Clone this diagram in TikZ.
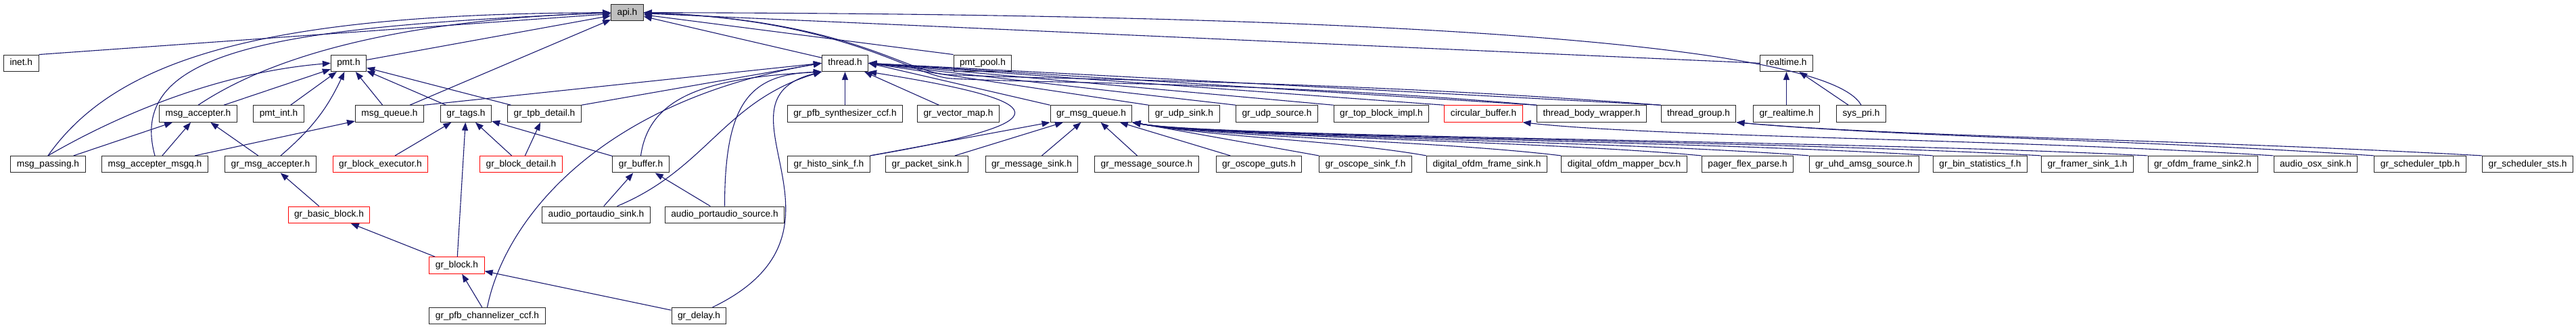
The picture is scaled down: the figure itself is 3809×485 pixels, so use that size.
\documentclass[tikz,border=0pt]{standalone}
\usepackage{fontspec}
\setmainfont{Liberation Sans}
\usetikzlibrary{arrows.meta}
\definecolor{edgeblue}{HTML}{191970}
\tikzset{
  hdr/.style={draw=black!85, line width=1pt, fill=white, inner xsep=9pt, inner ysep=0pt,
    minimum height=24.5pt, text height=10pt, text depth=3pt,
    font=\fontsize{13.7}{16}\selectfont},
  redhdr/.style={hdr, draw=red},
  edge/.style={draw=edgeblue, line width=1.1pt, -{Triangle[length=12pt,width=9pt]}}
}

\begin{document}
\begin{tikzpicture}[x=1pt,y=-1pt]
        \useasboundingbox (0,0) rectangle (3809,485);

        % row 0
        \node[hdr, fill=black!25] (api) at (927.5,18.7) {api.h};

        % row 1
        \node[hdr] (inet) at (31.3,93.3) {inet.h};
        \node[hdr] (pmt) at (515.5,93.3) {pmt.h};
        \node[hdr] (thread) at (1249.5,93.3) {thread.h};
        \node[hdr] (pmtpool) at (1453,93.3) {pmt\_pool.h};
        \node[hdr] (realtime) at (2641.5,93.3) {realtime.h};

        % row 2
        \node[hdr] (macc) at (293,168) {msg\_accepter.h};
        \node[hdr] (pmtint) at (412,168) {pmt\_int.h};
        \node[hdr] (msgq) at (576,168) {msg\_queue.h};
        \node[hdr] (tags) at (689,168) {gr\_tags.h};
        \node[hdr] (tpbd) at (805,168) {gr\_tpb\_detail.h};
        \node[hdr] (pfbs) at (1249.5,168) {gr\_pfb\_synthesizer\_ccf.h};
        \node[hdr] (vmap) at (1417,168) {gr\_vector\_map.h};
        \node[hdr] (gmq) at (1613.5,168) {gr\_msg\_queue.h};
        \node[hdr] (udps) at (1751,168) {gr\_udp\_sink.h};
        \node[hdr] (udpsrc) at (1888,168) {gr\_udp\_source.h};
        \node[hdr] (tbi) at (2042.5,168) {gr\_top\_block\_impl.h};
        \node[redhdr] (cbuf) at (2193.5,168) {circular\_buffer.h};
        \node[hdr] (tbw) at (2353.5,168) {thread\_body\_wrapper.h};
        \node[hdr] (tgroup) at (2511.5,168) {thread\_group.h};
        \node[hdr] (grrt) at (2641.5,168) {gr\_realtime.h};
        \node[hdr] (syspri) at (2752,168) {sys\_pri.h};

        % row 3
        \node[hdr] (mpass) at (71,242.7) {msg\_passing.h};
        \node[hdr] (maccq) at (229,242.7) {msg\_accepter\_msgq.h};
        \node[hdr] (gmacc) at (400,242.7) {gr\_msg\_accepter.h};
        \node[redhdr] (bexec) at (562.5,242.7) {gr\_block\_executor.h};
        \node[redhdr] (bdet) at (770.5,242.7) {gr\_block\_detail.h};
        \node[hdr] (gbuf) at (947.5,242.7) {gr\_buffer.h};
        \node[hdr] (histo) at (1225.5,242.7) {gr\_histo\_sink\_f.h};
        \node[hdr] (psink) at (1370.5,242.7) {gr\_packet\_sink.h};
        \node[hdr] (msink) at (1525.5,242.7) {gr\_message\_sink.h};
        \node[hdr] (msrc) at (1695.5,242.7) {gr\_message\_source.h};
        \node[hdr] (oguts) at (1861.5,242.7) {gr\_oscope\_guts.h};
        \node[hdr] (osink) at (2019,242.7) {gr\_oscope\_sink\_f.h};
        \node[hdr] (ofsink) at (2198.5,242.7) {digital\_ofdm\_frame\_sink.h};
        \node[hdr] (ofmap) at (2401.5,242.7) {digital\_ofdm\_mapper\_bcv.h};
        \node[hdr] (pager) at (2584,242.7) {pager\_flex\_parse.h};
        \node[hdr] (uhd) at (2756,242.7) {gr\_uhd\_amsg\_source.h};
        \node[hdr] (binst) at (2928,242.7) {gr\_bin\_statistics\_f.h};
        \node[hdr] (framer) at (3086.5,242.7) {gr\_framer\_sink\_1.h};
        \node[hdr] (ofsinktwo) at (3257,242.7) {gr\_ofdm\_frame\_sink2.h};
        \node[hdr] (osx) at (3424,242.7) {audio\_osx\_sink.h};
        \node[hdr] (stpb) at (3578.5,242.7) {gr\_scheduler\_tpb.h};
        \node[hdr] (ssts) at (3737.5,242.7) {gr\_scheduler\_sts.h};

        % rows 4 to 6
        \node[redhdr] (bblock) at (486.5,317.3) {gr\_basic\_block.h};
        \node[hdr] (pasink) at (881.5,317.3) {audio\_portaudio\_sink.h};
        \node[hdr] (pasrc) at (1071.5,317.3) {audio\_portaudio\_source.h};
        \node[redhdr] (gblock) at (675.5,392) {gr\_block.h};
        \node[hdr] (pfbc) at (720.5,466.7) {gr\_pfb\_channelizer\_ccf.h};
        \node[hdr] (gdelay) at (1033.5,466.7) {gr\_delay.h};

        % Knicke unter pmt_pool.h
        \coordinate (bend1) at ([shift={(-10,4)}]pmtpool.south west);
        \coordinate (bend2) at ([shift={(-2,10)}]pmtpool.south west);

        % Includes von api.h
        \draw[edge] (inet.north east) -- (api);
        \draw[edge] (mpass.north) .. controls +(99,-140) and +(-523,1.3) .. (api.west);
        \draw[edge] (maccq.north) .. controls +(-44,-160) and +(-483,21.3) .. (api.west);
        \draw[edge] (macc.north) .. controls +(90,-60) and +(-350,12) .. (api.west);
        \draw[edge] (pmt) -- (api);
        \draw[edge] (msgq) -- (api);
        \draw[edge] (thread) -- (api);
        \draw[edge] (pmtpool.north west) -- (api);
        \draw[edge] (realtime.west) -- (api);
        \draw[edge] (syspri.north) .. controls +(-52,-95) and +(1048,1.3) .. (api.east);
        \draw[edge] (tgroup.north west) .. controls +(-500,-38) and +(150,8) .. (bend1)
            .. controls +(-60,-3.2) and +(300,10) .. (api.east);
        \draw[edge] (tbw.north west) .. controls +(-400,-35) and +(150,8) .. (bend2)
            .. controls +(-60,-3.2) and +(300,10) .. (api.east);

        % Includes von pmt.h
        \draw[edge] (mpass.north) .. controls +(86,-50) and +(-180,15) .. (pmt.west);
        \draw[edge] (macc) -- (pmt);
        \draw[edge] (pmtint) -- (pmt);
        \draw[edge] (gmacc) to[bend right=12] (pmt);
        \draw[edge] (msgq) -- (pmt);
        \draw[edge] (tags) -- (pmt);
        \draw[edge] (tpbd) -- (pmt);

        % Includes von thread.h, links
        \draw[edge] (msgq.north east) -- (thread.west);
        \draw[edge] (tpbd.north east) -- (thread.west);
        \draw[edge] (gbuf.north) .. controls +(12.5,-90) and +(-165,9) .. (thread.south west);
        \draw[edge] (pfbc.north) .. controls +(24.5,-124) and +(-335,57) .. (thread.west);
        \draw[edge] ([xshift=31pt]pasink.north) .. controls +(132.5,-55) and +(-145,44) .. (thread.south west);
        \draw[edge] (pasrc.north) .. controls +(0,-155) and +(-105,4) .. (thread.south west);
        \draw[edge] ([xshift=20pt]gdelay.north) .. controls +(236.5,-114) and +(-175,44) .. (thread.south west);
        \draw[edge] (pfbs) -- (thread);

        % Includes von thread.h, rechts
        \draw[edge] (vmap) -- (thread);
        \draw[edge] (histo.north east) .. controls +(294,-50) and +(276,44) .. (thread.south east);
        \draw[edge] (gmq.north west) -- (thread.east);
        \draw[edge] (udps.north west) -- (thread.east);
        \draw[edge] (udpsrc.north west) -- (thread.east);
        \draw[edge] (tbi.north west) -- (thread.east);
        \draw[edge] (cbuf.north west) -- (thread.east);
        \draw[edge] (tbw.north west) -- (thread.east);
        \draw[edge] (tgroup.north west) -- (thread.east);

        % realtime.h
        \draw[edge] (grrt) -- (realtime);
        \draw[edge] (syspri) -- (realtime);

        % msg_accepter.h und msg_queue.h
        \draw[edge] (mpass) -- (macc);
        \draw[edge] (maccq) -- (macc);
        \draw[edge] (gmacc) -- (macc);
        \draw[edge] (maccq) -- (msgq);

        % Blockkette
        \draw[edge] (bexec) -- (tags);
        \draw[edge] (bdet) -- (tags);
        \draw[edge] (bdet) -- (tpbd);
        \draw[edge] (gbuf) -- (tags);
        \draw[edge] (gblock) -- (tags);
        \draw[edge] (gblock) -- (bblock);
        \draw[edge] (bblock) -- (gmacc);
        \draw[edge] (pfbc) -- (gblock);
        \draw[edge] (gdelay) -- (gblock);
        \draw[edge] (pasink) -- (gbuf);
        \draw[edge] (pasrc) -- (gbuf);

        % Includes von gr_msg_queue.h
        \draw[edge] (histo.north east) -- (gmq.south west);
        \draw[edge] (psink) -- (gmq);
        \draw[edge] (msink) -- (gmq);
        \draw[edge] (msrc) -- (gmq);
        \draw[edge] (oguts) -- (gmq);
        \draw[edge] (osink.north west) -- (gmq.south east);
        \draw[edge] (ofsink.north west) .. controls +(-130,-23) and +(120,22) .. (gmq.south east);
        \draw[edge] (ofmap.north west) .. controls +(-190,-23) and +(120,22) .. (gmq.south east);
        \draw[edge] (pager.north west) .. controls +(-250,-23) and +(120,22) .. (gmq.south east);
        \draw[edge] (uhd.north west) .. controls +(-300,-23) and +(120,22) .. (gmq.south east);
        \draw[edge] (binst.north west) .. controls +(-355,-23) and +(120,22) .. (gmq.south east);
        \draw[edge] (framer.north west) .. controls +(-400,-23) and +(120,22) .. (gmq.south east);
        \draw[edge] (ofsinktwo.north west) .. controls +(-450,-23) and +(120,22) .. (gmq.south east);

        % circular_buffer.h und thread_group.h
        \draw[edge] (osx.north west) .. controls +(-400,-25) and +(200,22) .. (cbuf.south east);
        \draw[edge] (stpb.north west) .. controls +(-380,-25) and +(250,22) .. (tgroup.south east);
        \draw[edge] (ssts.north west) .. controls +(-450,-25) and +(250,22) .. (tgroup.south east);
    \end{tikzpicture}
\end{document}
